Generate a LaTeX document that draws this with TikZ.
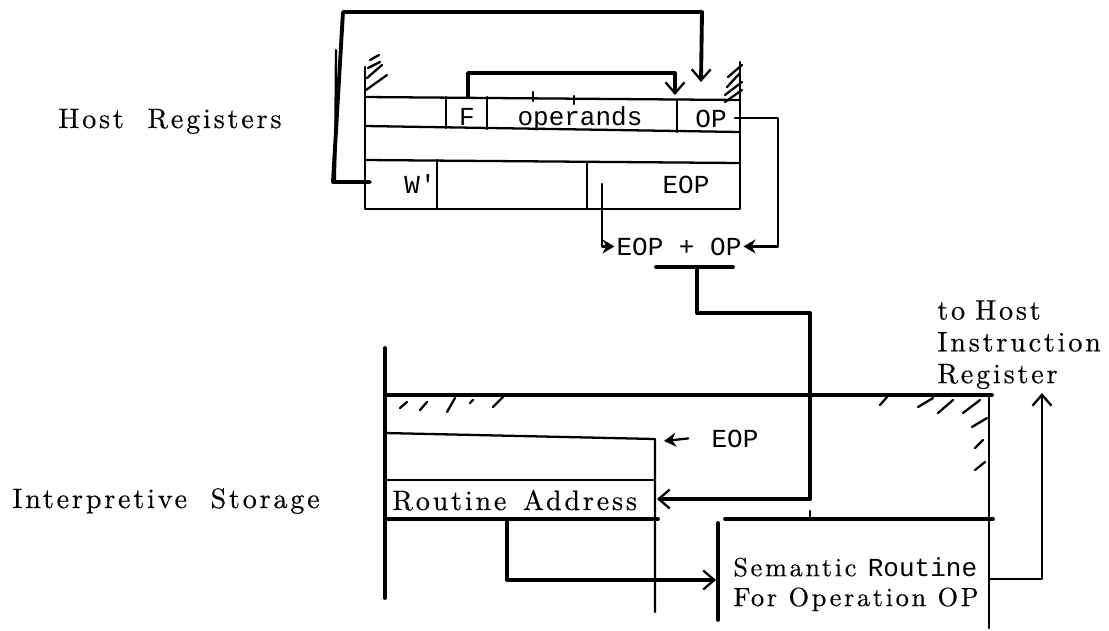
\documentclass[tikz,border=0pt]{standalone}
\usepackage{fontspec}
\setmonofont{Liberation Mono}
\newfontfamily\lblfont{lmroman10-regular.otf}[LetterSpace=10, FakeBold=0.4]
\usetikzlibrary{arrows.meta}
\tikzset{txt/.style={inner sep=0pt, font=\lblfont\fontsize{16}{18.1}\selectfont},
  tt/.style={inner sep=0pt, font=\ttfamily\fontsize{14.8}{18}\selectfont},
  wire/.style={line width=1.3pt, line join=round, line cap=round},
  heavy/.style={line width=2.2pt, line join=round, line cap=round},
  hatch/.style={line width=1.3pt, line cap=round},
  barb/.style={-{Straight Barb[length=2.2mm, width=3.8mm, line width=1.3pt]}},
  fillhead/.style={-{Stealth[length=2.4mm, width=2.8mm]}}}
\newcommand{\wgap}{\hspace{0.47cm}}
\newcommand{\ttword}[1]{{\ttfamily\fontsize{14.8}{18}\selectfont #1}}

\begin{document}
\begin{tikzpicture}[x=0.02cm, y=-0.02cm]
  \useasboundingbox (0,0) rectangle (1109,630);
  \node[txt, anchor=base west] (hostlbl) at (58,128) {Host\wgap Registers};
  \node[txt, anchor=base west] (storelbl) at (12,508) {Interpretive\wgap Storage};
  \node[txt, anchor=north west, align=left] (tohost) at (937,300)
    {to\hspace{0.2cm}Host\\Instruction\\Register};

  \draw[wire] (365,67) -- (365,209) -- (740,209) -- (740,62);
  \draw[wire] (365,97) -- (740,100);
  \draw[wire] (365,126) -- (740,132);
  \draw[wire] (365,160) -- (740,163);
  \draw[wire] (446,97) -- (446,128);
  \draw[wire] (487,97) -- (487,129);
  \draw[wire] (677,100) -- (677,132);
  \draw[wire] (437,160) -- (437,209);
  \draw[wire] (587,162) -- (587,209);
  \draw[wire] (533,92) -- (533,101);
  \draw[wire] (574,96) -- (574,104);
  \foreach \a/\b/\c/\d in {366/90/387/75, 367/78/382/65, 368/68/380/62, 370/60/379/55,
    725/102/742/90, 725/95/742/82, 727/87/740/73, 728/77/742/65}
    \draw[hatch] (\a,\b) -- (\c,\d);

  \node[tt, anchor=base] (fcell) at (467,125) {F};
  \node[tt, anchor=base] (opnds) at (580,125) {operands};
  \node[tt, anchor=base] (opcell) at (711,127) {OP};
  \node[tt, anchor=base] (wcell) at (420,193) {W'};
  \node[tt, anchor=base] (eopcell) at (686,193) {EOP};
  \node[tt, anchor=base, inner sep=1pt] (sum) at (679,255) {EOP + OP};

  \coordinate (wsrc) at (370,182);
  \coordinate (optop) at (701,82);
  \coordinate (fsrc) at (468,97);
  \coordinate (opnin) at (675,95);
  \coordinate (opdot) at (735,118);
  \coordinate (eopsrc) at (602,184);
  \draw[heavy, barb] (wsrc) -- (333,182) -- (343,12) -- (702,12) -- (optop);
  \draw[wire] (336,50) -- (335,182);
  \draw[heavy, barb] (fsrc) -- (468,73) -- (675,73) -- (opnin);
  \draw[wire, fillhead] (opdot) -- (778,118) |- (sum.east);
  \draw[wire, fillhead] (eopsrc) |- (sum.west);

  \coordinate (barl) at (656,267);
  \coordinate (barr) at (733,267);
  \coordinate (barm) at (697,267);
  \coordinate (rain) at (657,499);
  \draw[heavy] (barl) -- (barr);
  \draw[heavy, barb] (barm) -- (697,313) -| (810,499) -- (rain);

  \draw[heavy] (385,348) -- (385,598);
  \draw[heavy] (385,395) -- (992,395);
  \draw[wire] (989,395) -- (989,628);
  \draw[wire] (385,433) -- (655,439) -- (655,612);
  \draw[wire] (385,480) -- (655,480);
  \draw[heavy] (385,519) -- (658,519);
  \draw[heavy] (725,519) -- (993,519);
  \draw[heavy] (718,523) -- (718,620);
  \draw[wire] (810,511) -- (810,519);
  \foreach \a/\b/\c/\d in {400/408/407/402, 420/410/427/402, 447/412/455/398,
    470/403/473/400, 493/407/503/397, 880/405/887/397, 918/407/933/398,
    938/413/953/400, 963/413/980/400, 972/427/987/418, 975/448/983/440,
    975/470/985/462}
    \draw[hatch] (\a,\b) -- (\c,\d);

  \node[tt, anchor=base] (eopin) at (735,447) {EOP};
  \node[txt, anchor=base west] (raddr) at (392,510) {Routine\hspace{0.33cm}Address};
  \node[txt, anchor=north west, align=left,
    font=\lblfont\fontsize{15}{17}\selectfont] (sem) at (733,557)
    {Semantic \ttword{Routine}\\For Operation OP};

  \coordinate (rowtop) at (664,441);
  \coordinate (rasrc) at (507,519);
  \coordinate (semin) at (716,580);
  \coordinate (semout) at (989,579);
  \coordinate (irin) at (1042,393);
  \draw[wire, fillhead] ([xshift=-0.46cm]eopin.west) -- (rowtop);
  \draw[heavy, barb] (rasrc) -- (507,580) -- (semin);
  \draw[wire, barb] (semout) -- (1042,579) -- (irin);
\end{tikzpicture}
\end{document}
